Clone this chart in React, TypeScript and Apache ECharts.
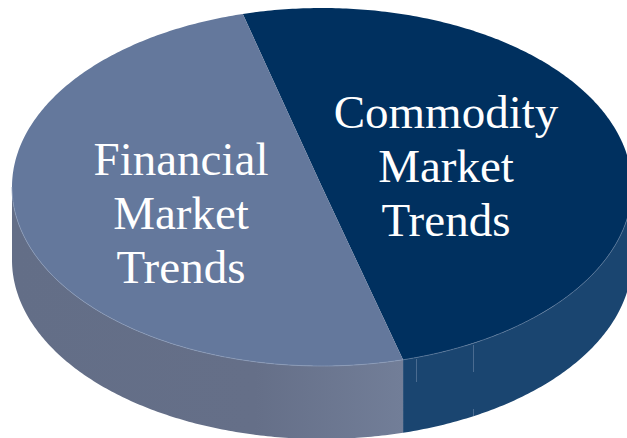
import React, { useEffect, useRef } from "react";
import * as echarts from "echarts";

const sliceNames = ["Commodity\nMarket\nTrends", "Financial\nMarket\nTrends"];
const sliceValues = [49.9, 50.1];
const topColors = ["#00305f", "#64789c"];
const rimColors = ["#5f7c9e", "#8c9dba"];
const labelCentres = [[446, 165.5], [181, 212.5]];
const wallScratches = [
  [416, 359, 382],
  [473, 345, 372],
  [473, 409, 416],
];

const CX = 322, CY = 187, RX = 310, RY = 179, DEPTH = 73;
const START_DEG = -104.8;
const rad = (d: number) => (d * Math.PI) / 180;
const pt = (deg: number, dy = 0): number[] => [
  CX + RX * Math.cos(rad(deg)),
  CY + RY * Math.sin(rad(deg)) + dy,
];
const arc = (a: number, b: number, dy = 0) => {
  const n = Math.max(2, Math.ceil(Math.abs(b - a) * 1.5));
  const out: number[][] = [];
  for (let i = 0; i <= n; i++) out.push(pt(a + ((b - a) * i) / n, dy));
  return out;
};

function sideFill(i: number) {
  return i === 0
    ? "#1a4570"
    : new echarts.graphic.LinearGradient(0, 0, 1, 0, [
        { offset: 0, color: "#636e87" },
        { offset: 0.62, color: "#656f88" },
        { offset: 1, color: "#727e98" },
      ]);
}

export default function App() {
  const ref = useRef<HTMLDivElement>(null);
  useEffect(() => {
    const chart = echarts.init(ref.current!, null, { renderer: "svg" });
    const total = sliceValues.reduce((a, b) => a + b, 0);
    const ranges: number[][] = [];
    let cur = START_DEG;
    sliceValues.forEach((v) => {
      const next = cur + (v / total) * 360;
      ranges.push([cur, next]);
      cur = next;
    });
    chart.setOption({
      animation: false,
      backgroundColor: "#ffffff",
      series: [
        {
          type: "custom",
          coordinateSystem: "none",
          silent: true,
          clip: false,
          data: sliceValues.map((v, i) => ({ value: v, name: sliceNames[i] })),
          renderItem: (params: any) => {
            const i = params.dataIndex;
            const [a, b] = ranges[i];
            const from = Math.max(a, 0);
            const to = Math.min(b, 180);
            const wallTop = arc(from, to);
            const wallBottom = arc(to, from, DEPTH);
            const children: any[] = [
              {
                type: "polygon",
                shape: { points: [...wallTop, ...wallBottom] },
                style: { fill: sideFill(i) },
              },
              {
                type: "polygon",
                shape: { points: [[CX, CY], ...arc(a, b)] },
                style: { fill: topColors[i] },
              },
              {
                type: "polyline",
                shape: { points: wallTop },
                style: { fill: "none", stroke: rimColors[i], lineWidth: 1, opacity: 0.7 },
              },
              {
                type: "text",
                style: {
                  text: sliceNames[i],
                  x: labelCentres[i][0],
                  y: labelCentres[i][1],
                  align: "center",
                  verticalAlign: "middle",
                  fill: "#ffffff",
                  fontFamily: "Liberation Serif",
                  fontSize: 47,
                  lineHeight: 54,
                },
              },
            ];
            if (i === 0) {
              wallScratches.forEach(([x, y1, y2]) =>
                children.push({
                  type: "line",
                  shape: { x1: x + 0.5, y1, x2: x + 0.5, y2 },
                  style: { stroke: "#5f7c9e", lineWidth: 1, opacity: 0.7 },
                })
              );
            }
            return { type: "group", children };
          },
        },
      ],
    });
    return () => chart.dispose();
  }, []);
  return (
    <div
      ref={ref}
      style={{ position: "fixed", left: 0, top: 0, width: 627, height: 438 }}
    />
  );
}
